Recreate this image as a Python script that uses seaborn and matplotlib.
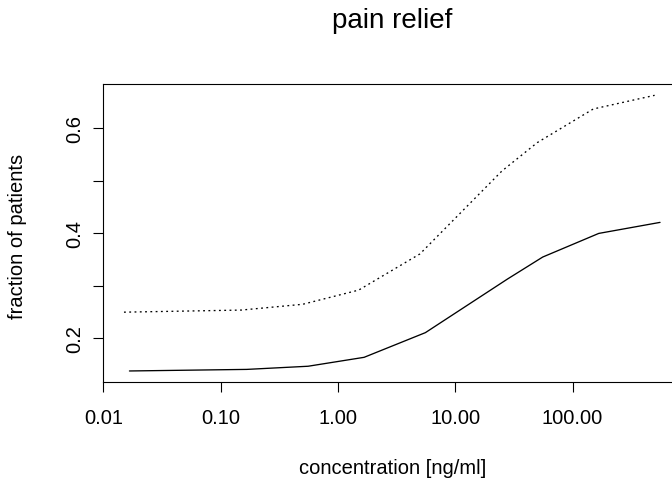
import numpy as np
import pandas as pd
import matplotlib
matplotlib.use("Agg")
import matplotlib.pyplot as plt
import seaborn as sns

# data
conc_solid = [0.0167, 0.167, 0.556, 1.67, 5.56, 27.8, 55.6, 167, 556]
frac_solid = [0.138, 0.141, 0.147, 0.164, 0.211, 0.313, 0.355, 0.400, 0.421]
conc_dotted = [0.015, 0.15, 0.5, 1.5, 5, 25, 50, 150, 500]
frac_dotted = [0.250, 0.254, 0.265, 0.292, 0.361, 0.519, 0.573, 0.637, 0.663]
x_ticks = [0.01, 0.1, 1, 10, 100]
x_tick_labels = ["0.01", "0.10", "1.00", "10.00", "100.00"]
y_ticks = [0.2, 0.3, 0.4, 0.5, 0.6]
y_tick_labels = ["0.2", "", "0.4", "", "0.6"]

df = pd.concat([
    pd.DataFrame({"conc": conc_solid, "frac": frac_solid, "series": "solid"}),
    pd.DataFrame({"conc": conc_dotted, "frac": frac_dotted, "series": "dotted"}),
], ignore_index=True)

sns.set_style("white")
plt.rcParams["font.family"] = ["Liberation Sans", "DejaVu Sans"]

fig = plt.figure(figsize=(6.72, 4.81), dpi=100)
ax = fig.add_axes([102.5 / 672, 1 - 383 / 481, 579 / 672, (383 - 85.3) / 481])

sns.lineplot(data=df, x="conc", y="frac", style="series",
             dashes={"solid": "", "dotted": (1.4, 2.6)},
             color="black", linewidth=0.95, estimator=None, sort=False,
             legend=False, ax=ax)

ax.set_xscale("log")
ax.set_xlim(10 ** -2.007, 10 ** 2.928)
ax.set_ylim(0.117, 0.684)
ax.set_xticks(x_ticks)
ax.set_xticklabels(x_tick_labels)
ax.xaxis.set_minor_locator(matplotlib.ticker.NullLocator())
ax.set_yticks(y_ticks)
ax.set_yticklabels(y_tick_labels, rotation=90, va="center")

for sp in ax.spines.values():
    sp.set_visible(True)
    sp.set_color("black")
    sp.set_linewidth(0.8)

ax.tick_params(axis="both", which="major", direction="out", length=7,
               width=0.8, color="black", labelsize=14.5, labelcolor="black",
               bottom=True, left=True)
ax.tick_params(axis="x", pad=12)
ax.tick_params(axis="y", pad=6)

ax.set_xlabel("")
ax.set_ylabel("")
fig.text(392.5 / 672, 1 - 474 / 481, "concentration [ng/ml]", ha="center",
         va="baseline", fontsize=14.5, color="black")
fig.text(18 / 672, 1 - 236 / 481, "fraction of patients", ha="center",
         va="center", rotation=90, fontsize=14.5, color="black")
fig.text(392.5 / 672, 1 - 28.5 / 481, "pain relief", ha="center",
         va="baseline", fontsize=20, color="black")

fig.savefig("out.png", dpi=100)
